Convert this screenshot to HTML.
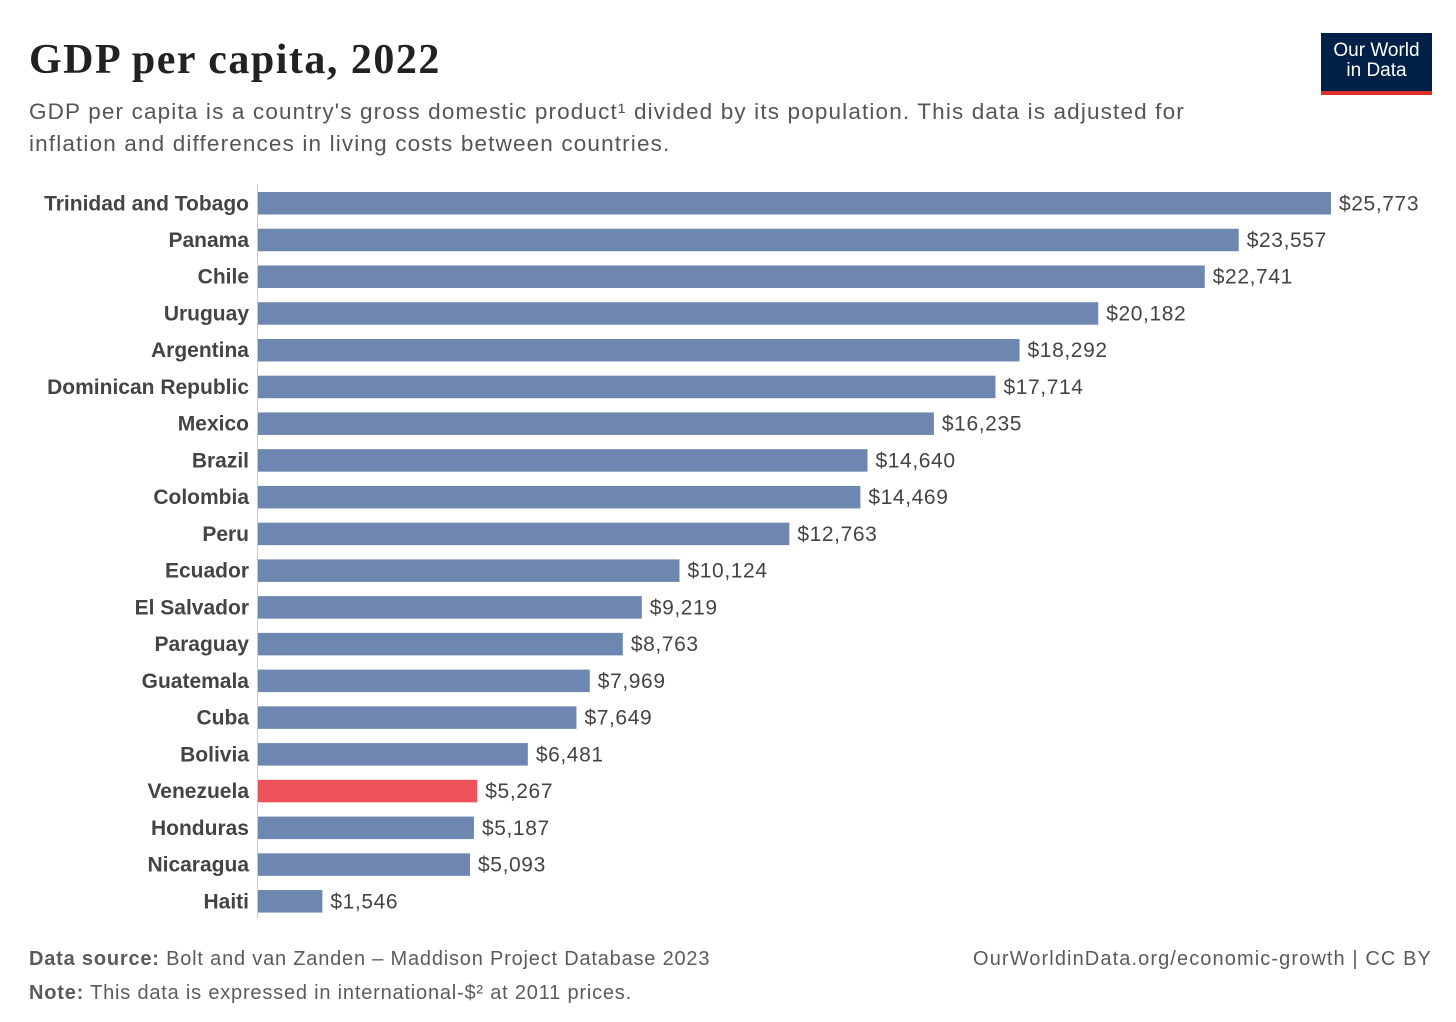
<!DOCTYPE html>
<html><head><meta charset="utf-8">
<style>
body{margin:0;background:#fff;width:1456px;height:1022px;overflow:hidden;font-family:"Liberation Sans",sans-serif;}
.t{position:absolute;white-space:nowrap;}
</style></head><body>
<div class="t" style="left:29px;top:36px;font-family:'Liberation Serif',serif;font-size:42px;font-weight:bold;color:#222;letter-spacing:1.5px;">GDP per capita, 2022</div>
<div class="t" style="left:29px;top:96px;font-size:22.5px;line-height:32px;color:#555;letter-spacing:1.15px;">GDP per capita is a country's gross domestic product¹ divided by its population. This data is adjusted for<br>inflation and differences in living costs between countries.</div>
<div style="position:absolute;left:1321px;top:33px;width:111px;height:62px;background:#002147;border-bottom:4px solid #dc2f2a;box-sizing:border-box;color:#fff;font-size:19px;line-height:20px;text-align:center;padding-top:8px;">Our World<br>in Data</div>
<svg id="chart" width="1456" height="1022" style="position:absolute;left:0;top:0;"></svg>
<div class="t" style="left:29px;top:948px;font-size:20px;color:#5b5b5b;letter-spacing:0.8px;"><b>Data source:</b> Bolt and van Zanden – Maddison Project Database 2023</div>
<div class="t" style="left:29px;top:982px;font-size:20px;color:#5b5b5b;letter-spacing:0.8px;"><b>Note:</b> This data is expressed in international-$² at 2011 prices.</div>
<div class="t" style="right:24px;top:948px;font-size:20px;color:#5b5b5b;letter-spacing:1.1px;">OurWorldinData.org/economic-growth | CC BY</div>
<script>
const countries=["Trinidad and Tobago","Panama","Chile","Uruguay","Argentina","Dominican Republic","Mexico","Brazil","Colombia","Peru","Ecuador","El Salvador","Paraguay","Guatemala","Cuba","Bolivia","Venezuela","Honduras","Nicaragua","Haiti"];
const values=[25773,23557,22741,20182,18292,17714,16235,14640,14469,12763,10124,9219,8763,7969,7649,6481,5267,5187,5093,1546];
const highlight="Venezuela";
const svg=document.getElementById('chart');
const NS="http://www.w3.org/2000/svg";
const x0=258,xMax=1331,maxV=25773;
const xs=v=>x0+(v/maxV)*(xMax-x0);
const y0=192,step=36.74,bh=22.5;
const ax=document.createElementNS(NS,'line');


ax.setAttribute('x1',257.5);ax.setAttribute('x2',257.5);ax.setAttribute('y1',184);ax.setAttribute('y2',918);ax.setAttribute('stroke','#ccc');
svg.appendChild(ax);
countries.forEach((c,i)=>{
  const y=y0+i*step;
  const r=document.createElementNS(NS,'rect');
  
  
  r.setAttribute('x',x0);r.setAttribute('y',y);r.setAttribute('width',xs(values[i])-x0);r.setAttribute('height',bh);
  r.setAttribute('fill',c===highlight?'#ef525b':'#6d87b0');
  svg.appendChild(r);
  const l=document.createElementNS(NS,'text');
  
  
  l.setAttribute('x',249);l.setAttribute('y',y+bh/2+7);l.setAttribute('text-anchor','end');
  l.setAttribute('font-size','21');l.setAttribute('font-weight','bold');l.setAttribute('fill','#444');
  l.textContent=c;svg.appendChild(l);
  const v=document.createElementNS(NS,'text');
  
  
  v.setAttribute('x',xs(values[i])+8);v.setAttribute('y',y+bh/2+7);
  v.setAttribute('font-size','21');v.setAttribute('fill','#444');v.setAttribute('letter-spacing','0.6');
  v.textContent='$'+values[i].toLocaleString('en-US');svg.appendChild(v);
});
</script>
</body></html>
